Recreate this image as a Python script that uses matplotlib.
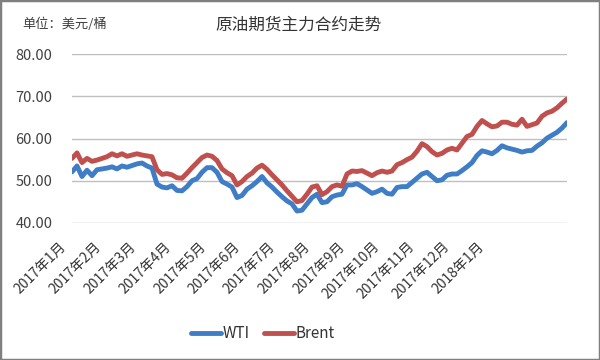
import numpy as np
import matplotlib
matplotlib.use("Agg")
from matplotlib import pyplot as plt
from matplotlib.patches import Rectangle
from matplotlib.transforms import ScaledTranslation

plt.rcParams["font.family"] = ["Noto Sans CJK SC", "DejaVu Sans"]

title = "原油期货主力合约走势"
unit = "单位：美元/桶"
month_labels = ["2017年1月", "2017年2月", "2017年3月", "2017年4月", "2017年5月",
                "2017年6月", "2017年7月", "2017年8月", "2017年9月", "2017年10月",
                "2017年11月", "2017年12月", "2018年1月"]

# values, roughly evenly spaced through the period
wti = [52.1, 53.5, 51.0, 52.5, 51.2, 52.6, 52.8, 53.0, 53.3, 52.8,
       53.5, 53.2, 53.6, 54.0, 54.2, 53.5, 53.0, 49.2, 48.5, 48.3,
       48.8, 47.7, 47.6, 48.6, 50.0, 50.5, 52.0, 53.1, 53.1, 52.0,
       49.8, 49.2, 48.5, 46.0, 46.5, 48.0, 48.8, 49.8, 51.0, 49.5,
       48.5, 47.3, 46.2, 45.2, 44.5, 42.8, 43.0, 44.5, 46.0, 46.8,
       44.8, 45.0, 46.2, 46.6, 46.8, 49.0, 49.0, 49.3, 48.6, 47.8,
       47.0, 47.4, 48.0, 47.0, 46.8, 48.4, 48.6, 48.6, 49.6, 50.6,
       51.6, 52.0, 51.0, 50.0, 50.2, 51.3, 51.6, 51.6, 52.4, 53.3,
       54.3, 56.0, 57.1, 56.8, 56.4, 57.2, 58.3, 57.8, 57.5, 57.2,
       56.8, 57.1, 57.2, 58.2, 59.0, 60.1, 60.8, 61.5, 62.5, 63.8]
brent = [55.3, 56.6, 54.3, 55.3, 54.6, 54.9, 55.3, 55.7, 56.4, 55.9,
         56.4, 55.8, 56.1, 56.4, 56.1, 55.9, 55.7, 52.6, 51.5, 51.7,
         51.4, 50.7, 50.6, 51.8, 53.1, 54.3, 55.5, 56.1, 55.8, 54.8,
         52.8, 51.9, 51.2, 49.0, 49.8, 51.0, 51.8, 53.0, 53.7, 52.7,
         51.4, 50.2, 49.0, 47.6, 46.3, 45.0, 45.3, 46.8, 48.5, 48.8,
         46.7, 47.4, 48.6, 49.0, 48.7, 51.6, 52.3, 52.2, 52.4, 51.8,
         51.2, 51.9, 52.3, 52.0, 52.3, 53.8, 54.3, 55.0, 55.6, 57.0,
         58.8, 58.1, 56.9, 56.1, 56.5, 57.3, 57.7, 57.3, 58.9, 60.5,
         61.0, 62.9, 64.3, 63.5, 62.8, 63.0, 63.9, 63.9, 63.4, 63.2,
         64.6, 62.9, 63.3, 63.7, 65.3, 66.1, 66.5, 67.3, 68.4, 69.4]

x = np.arange(len(wti))
month_step = 6.96  # points between month labels

fig = plt.figure(figsize=(6, 3.6), dpi=100)
ax = fig.add_axes([0.12, 0.381, 0.825, 0.468])

ax.plot(x, wti, color="#3F7DC7", lw=3.5, label="WTI", solid_capstyle="round")
ax.plot(x, brent, color="#C0504D", lw=3.5, label="Brent", solid_capstyle="round")

ax.set_xlim(0, len(wti) - 1)
ax.set_ylim(40, 80)
ax.set_yticks([40, 50, 60, 70, 80])
ax.set_yticklabels(["%.2f" % v for v in [40, 50, 60, 70, 80]])
ax.yaxis.grid(True, color="#BFBFBF", lw=1)
ax.set_axisbelow(True)
for s in ax.spines.values():
    s.set_visible(False)

ax.set_xticks(np.arange(len(month_labels)) * month_step)
ax.set_xticklabels(month_labels, rotation=45, ha="right", va="top", fontsize=10)
ax.tick_params(axis="x", length=0, pad=12, colors="#333333")
ax.tick_params(axis="y", length=0, pad=14, labelsize=10.5, colors="#404040")
shift = ScaledTranslation(-2 / 72, 0, fig.dpi_scale_trans)
for lbl in ax.get_xticklabels():
    lbl.set_transform(lbl.get_transform() + shift)

fig.text(0.497, 1 - 25 / 360, title, ha="center", va="center", fontsize=12, color="#333333")
fig.text(22 / 600, 1 - 24 / 360, unit, ha="left", va="center", fontsize=9.5, color="#404040")

fig.legend(loc="center", bbox_to_anchor=(263 / 600, 1 - 334 / 360), ncol=2, frameon=False,
           fontsize=11, handlelength=2.0, handletextpad=0.1, columnspacing=0.9,
           labelcolor="#333333")

fig.patches.append(Rectangle((0, 0), 1, 1, transform=fig.transFigure, fill=False,
                             edgecolor="#808080", lw=2.5))

fig.savefig("out.png", dpi=100)
